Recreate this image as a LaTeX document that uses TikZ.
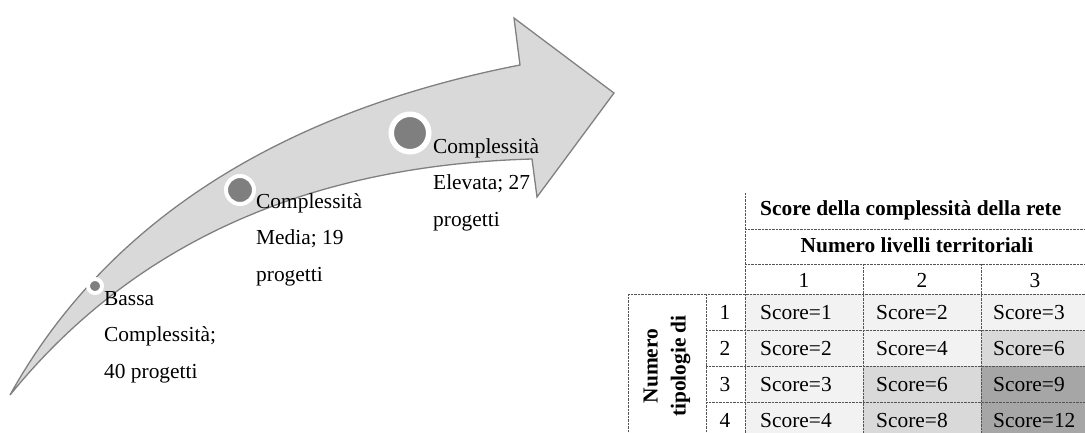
\documentclass[tikz,border=0pt]{standalone}
\usepackage{fontspec}
\setmainfont{Liberation Serif}
\definecolor{arrowfill}{HTML}{D9D9D9}
\definecolor{arrowline}{HTML}{808080}
\definecolor{dotfill}{HTML}{7F7F7F}
\definecolor{cellA}{HTML}{F2F2F2}
\definecolor{cellB}{HTML}{D9D9D9}
\definecolor{cellC}{HTML}{A6A6A6}
\definecolor{gridline}{HTML}{555555}
\begin{document}
\begin{tikzpicture}[x=1pt,y=-1pt,
  arrowshape/.style={fill=arrowfill,draw=arrowline,line width=1.3pt,line join=miter},
  dotnode/.style={circle,fill=dotfill,draw=white,inner sep=0pt},
  lbl/.style={inner sep=0pt,anchor=base west,font=\fontsize{21.4}{36.5}\selectfont},
  ttxt/.style={inner sep=0pt,font=\fontsize{21.4}{26}\selectfont},
  tbold/.style={ttxt,font=\fontsize{21.4}{26}\selectfont\bfseries},
  gline/.style={draw=gridline,line width=0.7pt,dash pattern=on 0.7pt off 0.7pt}
]
\useasboundingbox (0,0) rectangle (1085,432);
\clip (0,0) rectangle (1085,432);

% curved arrow
\draw[arrowshape] (10,395) .. controls (110,215) and (290,110) .. (520,65)
  -- (514,18) -- (614,93) -- (537,197) -- (532,159)
  .. controls (320,165) and (140,235) .. (10,395) -- cycle;

% milestone dots
\node[dotnode,line width=4pt,minimum size=14pt] (d1) at (95,286) {};
\node[dotnode,line width=4pt,minimum size=28pt] (d2) at (240,190) {};
\node[dotnode,line width=5.5pt,minimum size=37.5pt] (d3) at (410,133) {};

% labels
\node[lbl] (l1) at (104,305) {\begin{tabular}[t]{@{}l@{}}Bassa\\Complessità;\\40 progetti\end{tabular}};
\node[lbl] (l2) at (256,208) {\begin{tabular}[t]{@{}l@{}}Complessità\\Media; 19\\progetti\end{tabular}};
\node[lbl] (l3) at (433,153) {\begin{tabular}[t]{@{}l@{}}Complessità\\Elevata; 27\\progetti\end{tabular}};

% table cell fills
\fill[cellA] (745,294) rectangle (1089,330);
\fill[cellA] (745,330) rectangle (981,366);
\fill[cellB] (981,330) rectangle (1089,366);
\fill[cellA] (745,366) rectangle (863,438);
\fill[cellB] (863,366) rectangle (981,438);
\fill[cellC] (981,366) rectangle (1089,438);

% table grid
\draw[gline] (745,193) -- (745,438);
\draw[gline] (863,264) -- (863,438);
\draw[gline] (981,264) -- (981,438);
\draw[gline] (1089,193) -- (1089,438);
\draw[gline] (745,229) -- (1089,229);
\draw[gline] (745,264) -- (1089,264);
\draw[gline] (628,294) -- (1089,294);
\draw[gline] (706,330) -- (1089,330);
\draw[gline] (706,366) -- (1089,366);
\draw[gline] (706,402) -- (1089,402);
\draw[gline] (628,438) -- (1089,438);
\draw[gline] (628,294) -- (628,438);
\draw[gline] (706,294) -- (706,438);

% table texts
\node[tbold,anchor=base west] (h1) at (760,215) {Score della complessità della rete};
\node[tbold,anchor=base] (h2) at (917,252) {Numero livelli territoriali};
\node[ttxt,anchor=base] (n1) at (804,287) {1};
\node[ttxt,anchor=base] (n2) at (922,287) {2};
\node[ttxt,anchor=base] (n3) at (1035,287) {3};
\node[tbold,rotate=90,align=center,font=\fontsize{21.4}{28}\selectfont\bfseries] (rh) at (667,366) {Numero\\tipologie di};
\node[ttxt,anchor=base] (r1) at (725,319) {1};
\node[ttxt,anchor=base] (r2) at (725,355) {2};
\node[ttxt,anchor=base] (r3) at (725,391) {3};
\node[ttxt,anchor=base] (r4) at (725,427) {4};
\node[ttxt,anchor=base west] (s11) at (760,319) {Score=1};
\node[ttxt,anchor=base west] (s12) at (876,319) {Score=2};
\node[ttxt,anchor=base west] (s13) at (993,319) {Score=3};
\node[ttxt,anchor=base west] (s21) at (760,355) {Score=2};
\node[ttxt,anchor=base west] (s22) at (876,355) {Score=4};
\node[ttxt,anchor=base west] (s23) at (993,355) {Score=6};
\node[ttxt,anchor=base west] (s31) at (760,391) {Score=3};
\node[ttxt,anchor=base west] (s32) at (876,391) {Score=6};
\node[ttxt,anchor=base west] (s33) at (993,391) {Score=9};
\node[ttxt,anchor=base west] (s41) at (760,427) {Score=4};
\node[ttxt,anchor=base west] (s42) at (876,427) {Score=8};
\node[ttxt,anchor=base west] (s43) at (993,427) {Score=12};
\end{tikzpicture}
\end{document}
